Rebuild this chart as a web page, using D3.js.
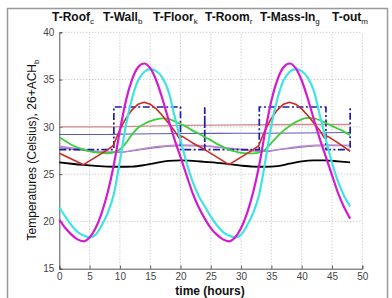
<!DOCTYPE html>
<html><head><meta charset="utf-8">
<script src="https://cdn.jsdelivr.net/npm/d3@7"></script>
<style>
html,body{margin:0;padding:0;background:#fff;}
svg text{font-family:"Liberation Sans",Arial,sans-serif;}
</style>
</head><body>
<svg id="chart" width="392" height="298"></svg>
<script>
// ---- data ----
const hours = d3.range(0, 49);
const xTicks = [0,5,10,15,20,25,30,35,40,45,50];
const yTicks = [15,20,25,30,35,40];
const legendNames = [["T-Roof","c"],["T-Wall","b"],["T-Floor","k"],["T-Room","r"],["T-Mass-In","g"],["T-out","m"]];
const yLabel = ["Temperatures (Celsius), 26+ACH","b"];
const xLabel = "time (hours)";

const tOut = [20.2,19.3,18.6,18.1,17.9,18.3,19.3,20.9,23.1,26.0,29.6,32.8,35.0,36.3,36.7,36.2,34.9,33.0,30.8,28.7,26.8,24.9,23.0,21.5,
              20.3,19.3,18.6,18.1,17.9,18.3,19.3,20.9,23.1,26.0,29.6,32.8,35.0,36.3,36.7,36.2,34.9,33.0,30.8,28.7,26.8,24.9,23.0,21.5,20.3];
const tRoof = [21.5,20.5,19.6,18.9,18.5,18.3,18.6,19.6,20.9,22.9,26.4,30.2,33.0,34.9,35.8,36.1,35.9,35.2,33.8,31.2,28.6,26.2,24.2,22.7,
               21.6,20.5,19.6,18.9,18.5,18.3,18.6,19.6,20.9,22.9,26.4,30.2,33.0,34.9,35.8,36.1,35.9,35.2,33.8,31.2,28.6,26.2,24.2,22.7,21.6];
const tMass = [28.9,28.5,28.1,27.8,27.6,27.4,27.3,27.25,27.2,27.3,27.6,28.3,29.2,29.9,30.3,30.6,30.8,30.9,30.85,30.6,30.3,30.0,29.6,29.3,
               28.9,28.6,28.2,27.9,27.6,27.4,27.25,27.2,27.2,27.3,27.6,28.3,29.0,29.6,30.1,30.5,30.8,30.95,30.9,30.7,30.4,30.1,29.8,29.5,29.1];
const floorT = [0,2,4,6,8,10,12,14,16,18,20,22,24,26,28,30,32,34,36,38,40,42,44,46,48];
const tFloor = [26.25,26.1,25.97,25.87,25.8,25.78,25.8,25.95,26.2,26.4,26.45,26.4,26.3,26.2,26.05,25.9,25.8,25.78,25.85,26.1,26.35,26.45,26.45,26.35,26.25];
const roomT = [0,2,4,6,8,8.9,9.2,10,11,12,13,14,15,16,17,18,19,19.8,20.3,22,24,26,28,30,32,32.9,33.2,34,35,36,37,38,39,40,41,42,43,43.8,44.3,46,48];
const tRoom = [27.2,26.6,26.0,26.8,27.6,28.0,28.5,29.7,30.9,31.8,32.4,32.6,32.4,31.9,31.2,30.4,29.6,28.8,29.0,28.3,27.6,26.8,26.0,26.8,27.6,28.0,28.5,29.7,30.9,31.8,32.4,32.6,32.4,31.9,31.2,30.4,29.6,28.8,29.0,28.3,27.4];
const setT = [0,9,9,20,20,24,24,24,33,33,44,44,48,48];
const setV = [27.6,27.6,32.1,32.1,27.6,27.6,32.0,27.6,27.6,32.1,32.1,27.6,27.6,32.0];
const flatT = [0,8,12,20,30,40,48];
const rosyV = [30.0,30.0,30.05,30.15,30.2,30.25,30.25];
const slateV = [29.2,29.2,29.25,29.3,29.32,29.35,29.4];
const purpT = [0,4,8,10,12,16,20,24,28,32,34,36,40,44,48];
const purpA = [27.95,27.6,27.35,27.35,27.5,27.9,28.1,28.0,27.75,27.5,27.45,27.6,27.95,28.1,28.05];
const purpB = [27.8,27.5,27.3,27.3,27.45,27.8,28.0,27.95,27.7,27.45,27.4,27.55,27.85,28.0,28.0];

// ---- chart ----
const svg = d3.select("#chart");
const x = d3.scaleLinear().domain([0,50]).range([59.3,362.3]);
const y = d3.scaleLinear().domain([15,40]).range([268.7,32.3]);

// frame
svg.append("rect").attr("x",7.5).attr("y",8.5).attr("width",380).attr("height",300)
  .attr("fill","none").attr("stroke","#999").attr("stroke-width",1.5);

// grid
const g = svg.append("g");
g.selectAll(".vg").data(xTicks.slice(1)).join("line")
  .attr("x1",d=>x(d)).attr("x2",d=>x(d)).attr("y1",y(15)).attr("y2",y(40))
  .attr("stroke","#aaa").attr("stroke-width",0.8).attr("stroke-dasharray","1,2");
g.selectAll(".hg").data(yTicks.slice(1)).join("line")
  .attr("y1",d=>y(d)).attr("y2",d=>y(d)).attr("x1",x(0)).attr("x2",x(50))
  .attr("stroke","#aaa").attr("stroke-width",0.8).attr("stroke-dasharray","1,2");

// axes
const xAxis = d3.axisBottom(x).tickValues(xTicks).tickSize(-3).tickPadding(4);
const yAxis = d3.axisLeft(y).tickValues(yTicks).tickSize(-3).tickPadding(5);
const gx = svg.append("g").attr("transform",`translate(0,${y(15)})`).call(xAxis);
const gy = svg.append("g").attr("transform",`translate(${x(0)},0)`).call(yAxis);
[gx,gy].forEach(a=>{
  a.select(".domain").attr("stroke","#555");
  a.selectAll(".tick line").attr("stroke","#555");
  a.selectAll("text").attr("font-size",10).attr("fill","#444").attr("font-family","Liberation Sans, Arial, sans-serif");
});

// lines
const line = (curve)=>d3.line().x(d=>x(d[0])).y(d=>y(d[1])).curve(curve);
function draw(ts, vs, color, w, curve, dash){
  const pts = ts.map((t,i)=>[t,vs[i]]);
  const p = svg.append("path").datum(pts).attr("d",line(curve||d3.curveMonotoneX))
    .attr("fill","none").attr("stroke",color).attr("stroke-width",w).attr("stroke-linejoin","round");
  if(dash) p.attr("stroke-dasharray",dash);
}
draw(flatT, rosyV, "#d08c8c", 1.3);
draw(flatT, slateV, "#5c5cb8", 1.1);
draw(purpT, purpB, "#9a7a9a", 1.2);
draw(purpT, purpA, "#b884d8", 1.3);
draw(setT, setV, "#1c1ca8", 1.7, d3.curveLinear, "7,2.5,2,2.5");
draw(floorT, tFloor, "#000", 1.8);
draw(hours, tMass, "#3ccf3c", 1.8);
draw(roomT, tRoom, "#cc2a1e", 1.6, d3.curveLinear);
draw(hours, tRoof, "#3fe3e3", 2.2);
draw(hours, tOut, "#d41ad0", 2.2);

// title legend
const lx = [52,103,153,205,260,332];
const tg = svg.append("g");
legendNames.forEach((n,i)=>{
  const t = tg.append("text").attr("x",lx[i]).attr("y",21).attr("font-size",12).attr("font-weight","bold").attr("fill","#111");
  t.append("tspan").text(n[0]);
  t.append("tspan").attr("dy",3).attr("font-size",8).attr("font-weight","normal").text(n[1]);
});

// y label
const yl = svg.append("text").attr("transform","translate(36,150) rotate(-90)")
  .attr("text-anchor","middle").attr("font-size",12).attr("fill","#111");
yl.append("tspan").text(yLabel[0]);
yl.append("tspan").attr("dy",3).attr("font-size",8).text(yLabel[1]);

// x label
svg.append("text").attr("x",210).attr("y",294.5).attr("text-anchor","middle")
  .attr("font-size",12).attr("font-weight","bold").attr("fill","#111").text(xLabel);
</script>
</body></html>
